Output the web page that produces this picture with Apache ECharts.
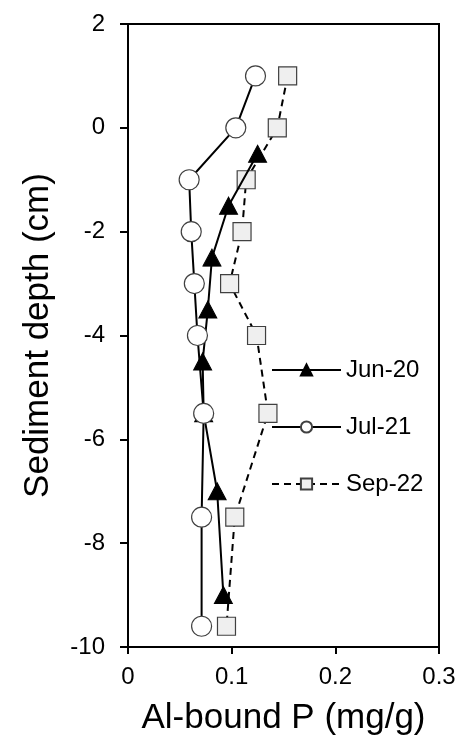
<!DOCTYPE html>
<html><head><meta charset="utf-8">
<script src="https://cdn.jsdelivr.net/npm/echarts@6/dist/echarts.min.js"></script>
<style>html,body{margin:0;padding:0;background:#fff}#c{width:463px;height:743px}</style>
</head><body><div id="c"></div>
<script>
const seriesNames = ['Jun-20', 'Jul-21', 'Sep-22'];
const jun20Depth = [-0.5, -1.5, -2.5, -3.5, -4.5, -5.5, -7, -9];
const jun20Value = [0.125, 0.097, 0.081, 0.077, 0.072, 0.073, 0.086, 0.092];
const jul21Depth = [1, 0, -1, -2, -3, -4, -5.5, -7.5, -9.6];
const jul21Value = [0.123, 0.104, 0.059, 0.061, 0.064, 0.067, 0.073, 0.071, 0.071];
const sep22Depth = [1, 0, -1, -2, -3, -4, -5.5, -7.5, -9.6];
const sep22Value = [0.154, 0.144, 0.114, 0.110, 0.098, 0.124, 0.135, 0.103, 0.095];
const xTicks = [0, 0.1, 0.2, 0.3];
const yTicks = [-10, -8, -6, -4, -2, 0, 2];

const pair = (xs, ys) => xs.map((v, i) => [v, ys[i]]);
const font = 'Liberation Sans, Arial, sans-serif';
const chart = echarts.init(document.getElementById('c'), null, {renderer: 'canvas'});
chart.setOption({
  animation: false,
  textStyle: {fontFamily: font, color: '#000'},
  grid: {left: 128, right: 24, top: 24, bottom: 96, show: true, borderColor: '#000', borderWidth: 2, backgroundColor: 'transparent'},
  legend: {
    orient: 'vertical', left: 266, top: 353, itemWidth: 69, itemHeight: 14, itemGap: 33,
    textStyle: {fontSize: 24, color: '#000', fontFamily: font},
    data: seriesNames
  },
  xAxis: {
    type: 'value', min: xTicks[0], max: xTicks[xTicks.length - 1], interval: 0.1,
    name: 'Al-bound P (mg/g)', nameLocation: 'middle', nameGap: 54,
    nameTextStyle: {fontSize: 35, color: '#000'},
    axisLine: {onZero: false, lineStyle: {color: '#000', width: 2}},
    axisTick: {length: 7, lineStyle: {color: '#000', width: 2}},
    axisLabel: {fontSize: 24, color: '#000', margin: 18},
    splitLine: {show: false}
  },
  yAxis: {
    type: 'value', min: yTicks[0], max: yTicks[yTicks.length - 1], interval: 2,
    name: 'Sediment depth (cm)', nameLocation: 'middle', nameGap: 72,
    nameTextStyle: {fontSize: 35, color: '#000'},
    axisLine: {onZero: false, lineStyle: {color: '#000', width: 2}},
    axisTick: {length: 8, lineStyle: {color: '#000', width: 2}},
    axisLabel: {fontSize: 24, color: '#000', margin: 23},
    splitLine: {show: false}
  },
  series: [
    {name: seriesNames[0], type: 'line', data: pair(jun20Value, jun20Depth), z: 3,
     symbol: 'triangle', symbolSize: [18, 17],
     itemStyle: {color: '#000', borderColor: '#000', borderWidth: 1},
     lineStyle: {color: '#000', width: 2}},
    {name: seriesNames[1], type: 'line', data: pair(jul21Value, jul21Depth), z: 4,
     symbol: 'circle', symbolSize: 20,
     itemStyle: {color: '#fff', borderColor: '#404040', borderWidth: 1.2},
     lineStyle: {color: '#000', width: 2}},
    {name: seriesNames[2], type: 'line', data: pair(sep22Value, sep22Depth), z: 2,
     symbol: 'rect', symbolSize: 18,
     itemStyle: {color: '#efefef', borderColor: '#404040', borderWidth: 1.2},
     lineStyle: {color: '#000', width: 2, type: [7, 5]}}
  ]
});
</script></body></html>
